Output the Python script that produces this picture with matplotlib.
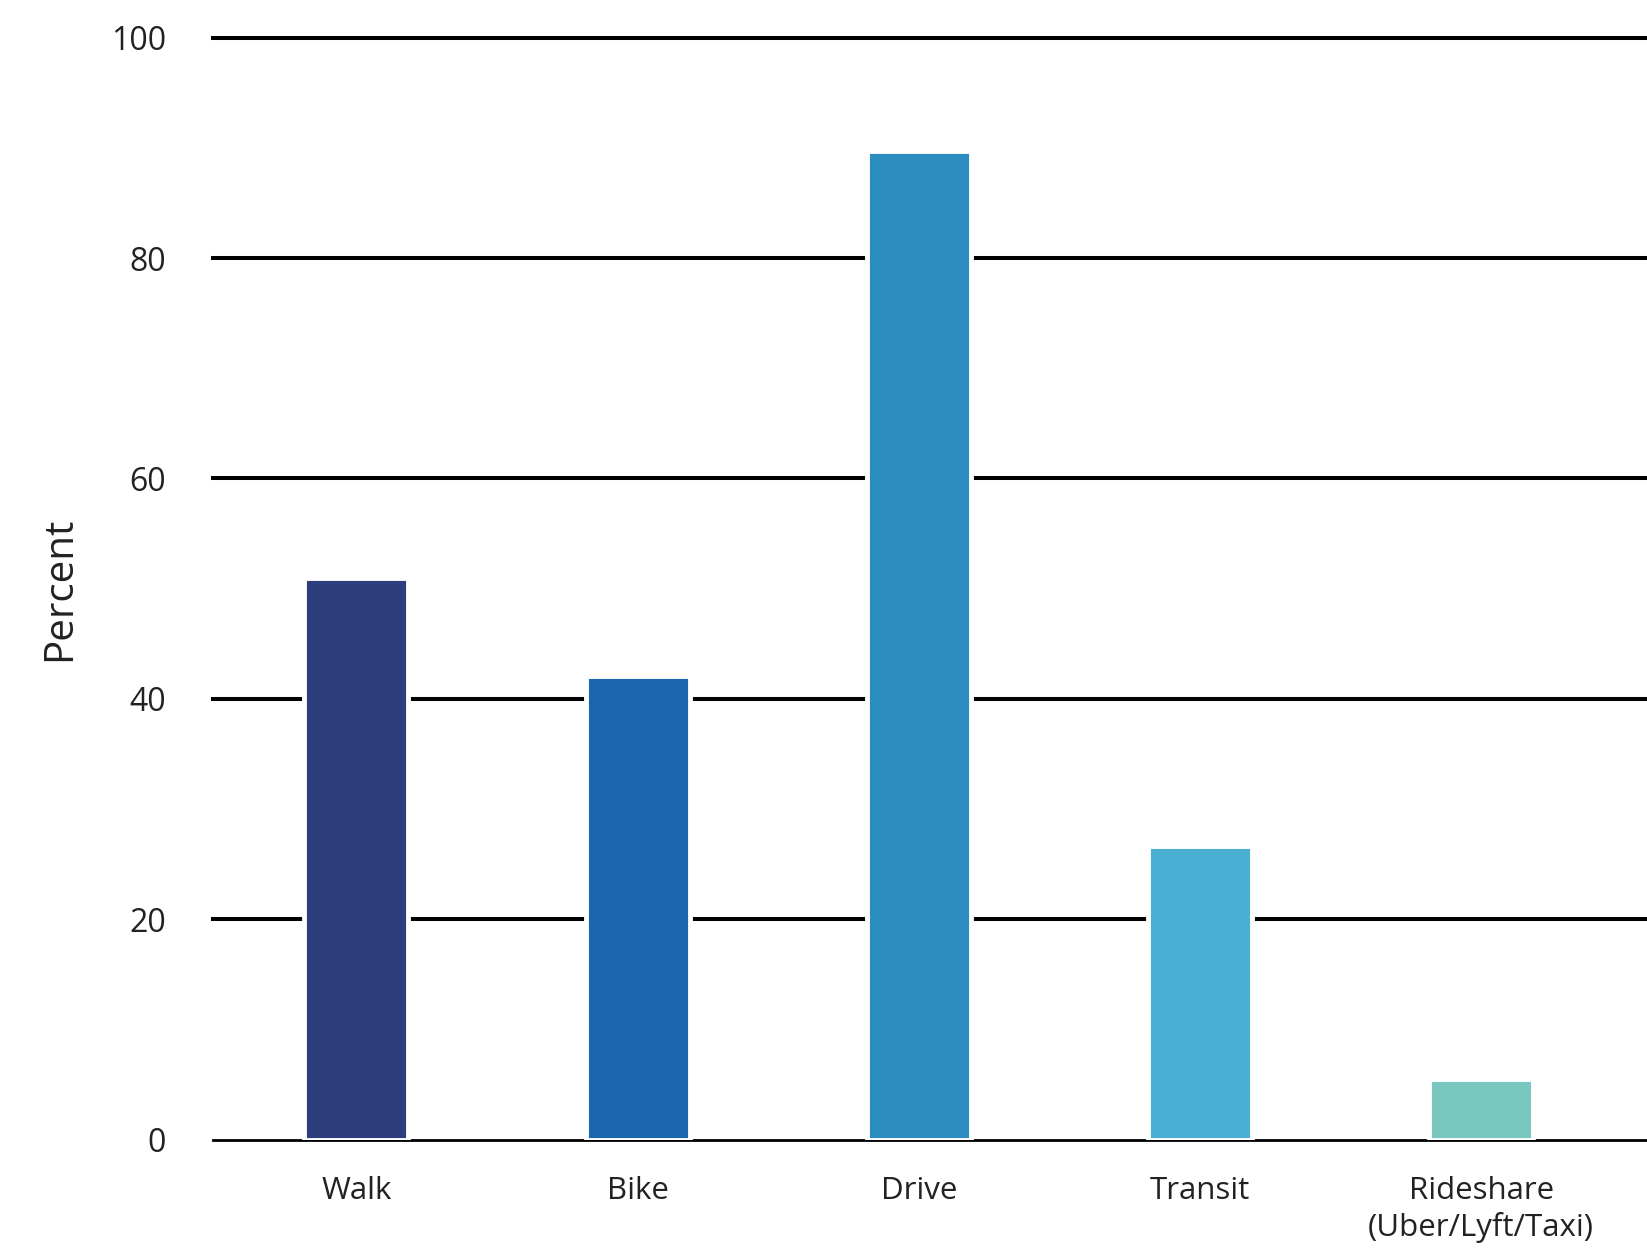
import matplotlib.pyplot as plt
import numpy as np

# Data
modes = ['Walk', 'Bike', 'Drive', 'Transit', 'Rideshare\n(Uber/Lyft/Taxi)']
percent = [51, 42.1, 89.7, 26.6, 5.5]
colors = ['#2c3f7c', '#1a67ad', '#2b8cbf', '#4ab0d3', '#79c9c0']
yticks = [0, 20, 40, 60, 80, 100]

plt.rcParams['font.family'] = ['Open Sans', 'DejaVu Sans']

fig = plt.figure(figsize=(16.47, 12.54), dpi=100)
ax = fig.add_axes([0.1293, 0.0913, 0.8707, 0.8786])

x = np.arange(len(modes))
# gridlines behind, bars with white edges to leave small gaps
for y in yticks:
    lw = 2.0 if y == 0 else 2.9
    ax.axhline(y, color='black', linewidth=lw, zorder=1, clip_on=False)
ax.bar(x, percent, width=0.37, color=colors, edgecolor='white',
       linewidth=3.5, zorder=2)

ax.set_ylim(0, 100)
ax.set_xlim(-0.51, 4.59)
ax.set_yticks(yticks)
ax.set_xticks(x)
ax.set_xticklabels(modes, fontsize=22.5, color='#222222', linespacing=1.25)
ax.tick_params(axis='y', length=0, pad=34, labelsize=23, labelcolor='#222222')
ax.tick_params(axis='x', length=0, pad=26)
for s in ax.spines.values():
    s.set_visible(False)

fig.text(60 / 1647, 1 - 589 / 1254, 'Percent', rotation=90, ha='center',
         va='center', fontsize=29, color='#222222')

plt.savefig('out.png', dpi=100)
